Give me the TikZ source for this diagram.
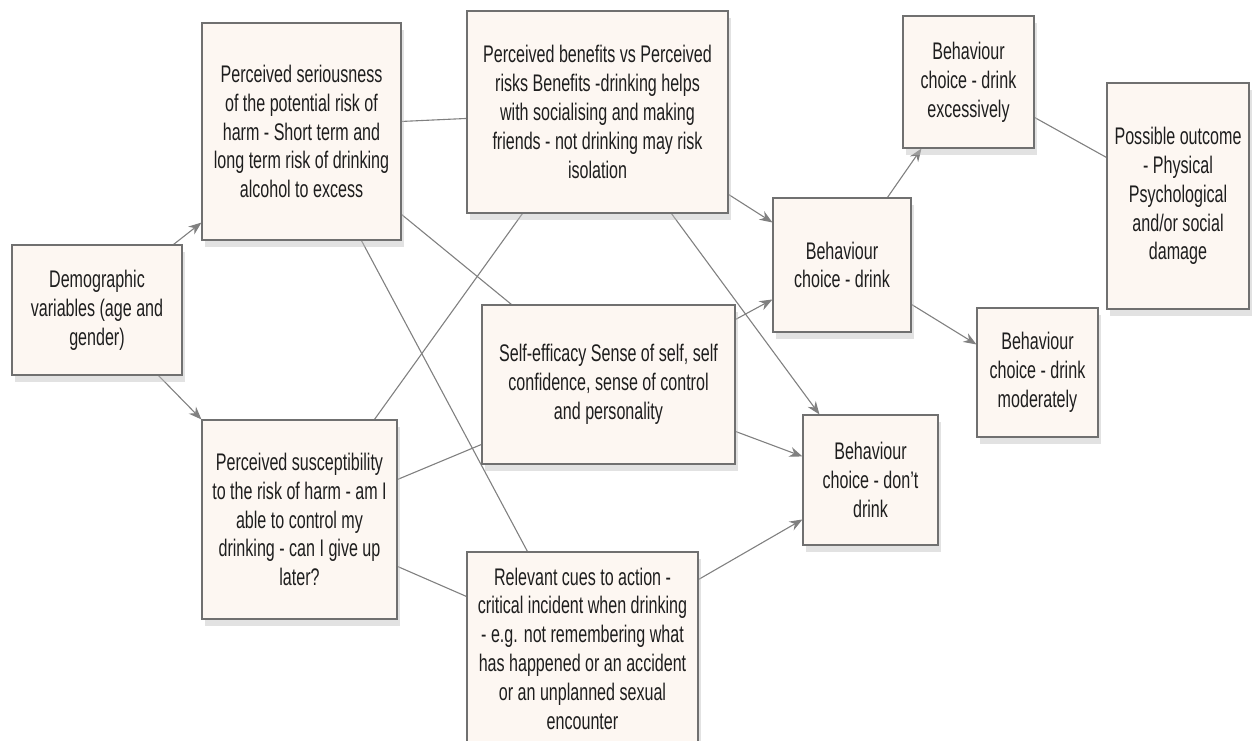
\documentclass[tikz,border=0pt]{standalone}
\usepackage{fontspec}
\setmainfont{Liberation Sans}[FakeStretch=0.67]
\usetikzlibrary{arrows.meta,shadows,calc,backgrounds}
\definecolor{boxfill}{RGB}{253,247,242}
\definecolor{boxline}{RGB}{112,112,112}
\definecolor{conn}{RGB}{128,128,128}
\definecolor{txt}{RGB}{30,30,30}
\tikzset{
  hbox/.style={draw=boxline, line width=1.1pt, fill=boxfill, align=center,
    inner sep=0pt, text=txt, font=\fontsize{24}{28.8}\selectfont,
    drop shadow={shadow xshift=3pt, shadow yshift=-7pt, fill=black!25, opacity=0.45}},
  link/.style={draw=conn, line width=1.1pt},
  arr/.style={link, -{Stealth[length=13pt,width=10pt]}}
}
\begin{document}
\begin{tikzpicture}[x=1pt,y=-1pt]
\clip (0,0) rectangle (1252,740);

\node[hbox, minimum width=170pt, minimum height=130pt] (demo) at (97,310)
  {Demographic\\variables (age and\\gender)};
\node[hbox, minimum width=199pt, minimum height=217pt] (ser) at (301.5,131.5)
  {Perceived seriousness\\of the potential risk of\\harm -  Short term and\\long term risk of drinking\\alcohol to excess};
\node[hbox, minimum width=261pt, minimum height=202pt] (ben) at (597.5,112)
  {Perceived benefits vs Perceived\\risks  Benefits -drinking helps\\with socialising and making\\friends -  not drinking may risk\\isolation};
\node[hbox, minimum width=138pt, minimum height=134pt] (drink) at (842,265)
  {Behaviour\\choice - drink};
\node[hbox, minimum width=131pt, minimum height=132pt] (exc) at (968.5,82)
  {Behaviour\\choice - drink\\excessively};
\node[hbox, minimum width=142pt, minimum height=226pt] (out) at (1178,196)
  {Possible outcome\\- Physical\\Psychological\\and/or social\\damage};
\node[hbox, minimum width=121pt, minimum height=129pt] (mod) at (1037.5,372.5)
  {Behaviour\\choice -  drink\\moderately};
\node[hbox, minimum width=253pt, minimum height=159pt] (self) at (608.5,384.5)
  {Self-efficacy  Sense of self, self\\confidence, sense of control\\and personality};
\node[hbox, minimum width=135pt, minimum height=130pt] (dont) at (870.5,480)
  {Behaviour\\choice - don't\\drink};
\node[hbox, minimum width=231pt, minimum height=193pt] (cues) at (582.5,648.5)
  {Relevant cues to action -\\critical incident when drinking\\- e.g. not remembering what\\has happened or an accident\\or an unplanned sexual\\encounter};
\node[hbox, minimum width=195pt, minimum height=199pt] (susc) at (299.5,519.5)
  {Perceived susceptibility\\to the risk of harm - am I\\able to control my\\drinking - can I give up\\later?};

\begin{pgfonlayer}{background}
\draw[arr] ($(demo.north east)+(-9,0)$) -- ($(ser.south west)+(0,-18)$);
\draw[arr] ($(demo.south east)+(-24,0)$) -- (susc.north west);
\draw[link] ($(ser.north east)+(0,99)$) -- ($(ben.north west)+(0,108)$);
\draw[link] ($(ser.north east)+(0,192)$) -- ($(self.north west)+(30,0)$);
\draw[link] ($(ser.south west)+(160,0)$) -- ($(cues.north west)+(61,0)$);
\draw[link] ($(susc.north west)+(173,0)$) -- ($(ben.south west)+(56,0)$);
\draw[link] ($(susc.north east)+(0,60)$) -- ($(self.north west)+(0,140)$);
\draw[link] ($(susc.north east)+(0,147)$) -- ($(cues.north west)+(0,45)$);
\draw[arr] ($(ben.north east)+(0,184)$) -- ($(drink.north west)+(0,25)$);
\draw[arr] ($(ben.south west)+(205,0)$) -- ($(dont.north west)+(17,0)$);
\draw[arr] ($(self.north east)+(0,15)$) -- ($(drink.north west)+(0,102)$);
\draw[arr] ($(self.north east)+(0,127)$) -- ($(dont.north west)+(0,42)$);
\draw[arr] ($(cues.north east)+(0,28)$) -- ($(dont.north west)+(0,105)$);
\draw[arr] ($(drink.north west)+(115,0)$) -- ($(exc.south west)+(19,0)$);
\draw[arr] ($(drink.north east)+(0,107)$) -- ($(mod.north west)+(0,37)$);
\draw[link] ($(exc.north east)+(0,102)$) -- ($(out.north west)+(0,75)$);
\end{pgfonlayer}
\end{tikzpicture}
\end{document}
